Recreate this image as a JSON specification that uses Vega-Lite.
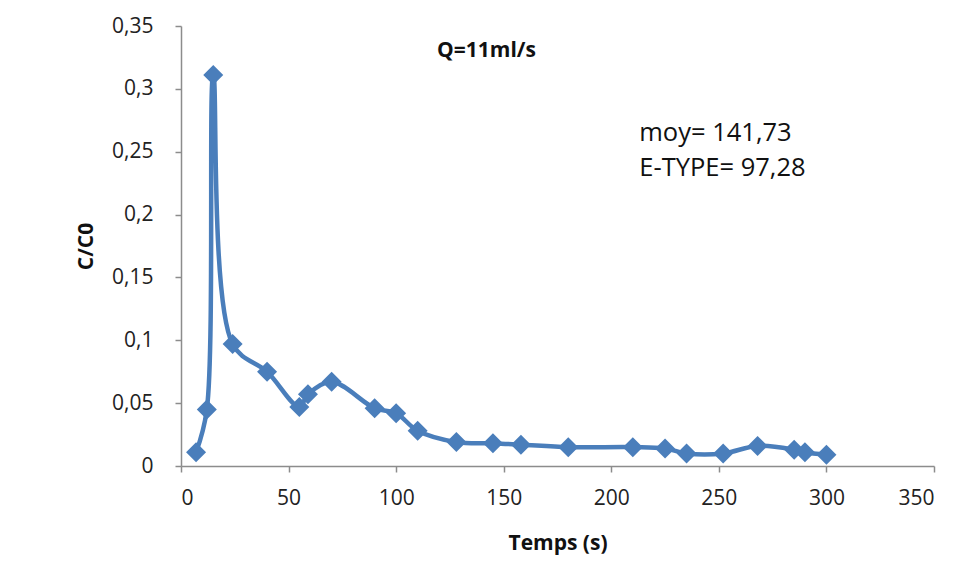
{
  "$schema": "https://vega.github.io/schema/vega-lite/v6.json",
  "width": 753,
  "height": 440,
  "autosize": "none",
  "padding": {"left": 181, "top": 26, "right": 31, "bottom": 118},
  "background": "white",
  "config": {
    "view": {"stroke": null},
    "font": "Open Sans",
    "axis": {
      "grid": false,
      "domainColor": "#8c8c8c",
      "domainWidth": 1.5,
      "tickColor": "#8c8c8c",
      "tickWidth": 1.5,
      "tickSize": 6,
      "labelFont": "Open Sans",
      "labelFontSize": 21,
      "labelColor": "#222222",
      "titleFont": "Open Sans",
      "titleFontSize": 21,
      "titleFontWeight": "bold",
      "titleColor": "#111111"
    }
  },
  "datasets": {
    "series": [
      {"t": 7, "c": 0.011},
      {"t": 12, "c": 0.045},
      {"t": 15, "c": 0.311},
      {"t": 24, "c": 0.097},
      {"t": 40, "c": 0.075},
      {"t": 55, "c": 0.047},
      {"t": 59, "c": 0.057},
      {"t": 70, "c": 0.067},
      {"t": 90, "c": 0.046},
      {"t": 100, "c": 0.042},
      {"t": 110, "c": 0.028},
      {"t": 128, "c": 0.019},
      {"t": 145, "c": 0.018},
      {"t": 158, "c": 0.017},
      {"t": 180, "c": 0.015},
      {"t": 210, "c": 0.015},
      {"t": 225, "c": 0.014},
      {"t": 235, "c": 0.010},
      {"t": 252, "c": 0.010},
      {"t": 268, "c": 0.016},
      {"t": 285, "c": 0.013},
      {"t": 290, "c": 0.011},
      {"t": 300, "c": 0.009}
    ],
    "notes": [
      {"t": 142, "c": 0.33, "label": "Q=11ml/s", "kind": "title"},
      {"t": 213, "c": 0.265, "label": "moy= 141,73", "kind": "stat"},
      {"t": 213, "c": 0.237, "label": "E-TYPE= 97,28", "kind": "stat"}
    ]
  },
  "layer": [
    {
      "data": {"name": "series"},
      "mark": {"type": "line", "interpolate": "catmull-rom", "color": "#4A7EBB", "strokeWidth": 4.5},
      "encoding": {
        "x": {
          "field": "t", "type": "quantitative",
          "scale": {"domain": [0, 350], "nice": false},
          "axis": {"values": [0, 50, 100, 150, 200, 250, 300, 350], "title": "Temps (s)", "labelPadding": 15, "titlePadding": 24}
        },
        "y": {
          "field": "c", "type": "quantitative",
          "scale": {"domain": [0, 0.35], "nice": false},
          "axis": {
            "values": [0, 0.05, 0.1, 0.15, 0.2, 0.25, 0.3, 0.35],
            "labelExpr": "replace(format(datum.value, '~g'), '.', ',')",
            "title": "C/C0",
            "labelPadding": 22,
            "titlePadding": 15
          }
        }
      }
    },
    {
      "data": {"name": "series"},
      "mark": {"type": "point", "shape": "diamond", "filled": true, "opacity": 1, "color": "#4A7EBB", "size": 400},
      "encoding": {
        "x": {"field": "t", "type": "quantitative"},
        "y": {"field": "c", "type": "quantitative"}
      }
    },
    {
      "data": {"name": "notes"},
      "transform": [{"filter": "datum.kind == 'title'"}],
      "mark": {"type": "text", "font": "Open Sans", "fontSize": 21, "fontWeight": "bold", "align": "center", "baseline": "middle", "color": "#111111"},
      "encoding": {
        "x": {"field": "t", "type": "quantitative"},
        "y": {"field": "c", "type": "quantitative"},
        "text": {"field": "label"}
      }
    },
    {
      "data": {"name": "notes"},
      "transform": [{"filter": "datum.kind == 'stat'"}],
      "mark": {"type": "text", "font": "Open Sans", "fontSize": 25.5, "align": "left", "baseline": "middle", "color": "#111111"},
      "encoding": {
        "x": {"field": "t", "type": "quantitative"},
        "y": {"field": "c", "type": "quantitative"},
        "text": {"field": "label"}
      }
    }
  ]
}
